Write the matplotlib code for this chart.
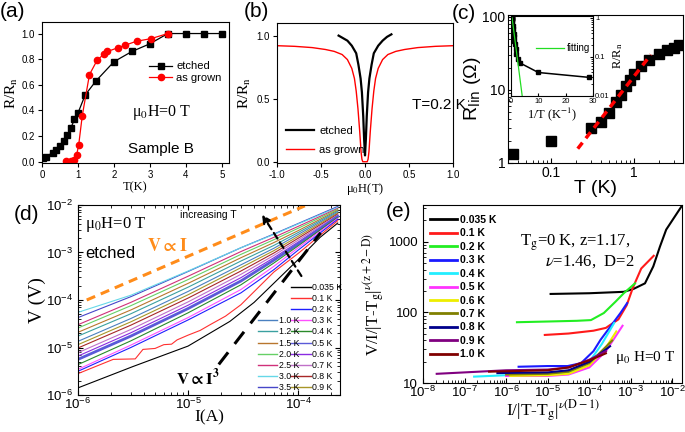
import numpy as np
import matplotlib
matplotlib.use('Agg')
import matplotlib.pyplot as plt
from matplotlib.ticker import FixedLocator, FuncFormatter, NullFormatter, LogLocator
from matplotlib.lines import Line2D

plt.rcParams['font.family'] = ['Liberation Sans', 'DejaVu Sans']
plt.rcParams['mathtext.fontset'] = 'dejavusans'
plt.rcParams['axes.linewidth'] = 0.8
SERIF = ['Liberation Serif', 'DejaVu Serif']

# ---------------- data ----------------
# (a) R/Rn vs T
a_T_etched = [0.035, 0.1, 0.3, 0.4, 0.5, 0.6, 0.7, 0.8, 0.9, 1.0, 1.2, 1.5, 2.0, 2.5, 3.0, 3.5, 4.0, 4.5, 5.0]
a_R_etched = [0.03, 0.04, 0.07, 0.09, 0.12, 0.16, 0.21, 0.26, 0.33, 0.38, 0.52, 0.63, 0.78, 0.86, 0.92, 1.0, 1.0, 1.0, 1.0]
a_T_grown = [0.68, 0.8, 0.9, 0.96, 1.02, 1.12, 1.32, 1.53, 1.72, 1.82, 2.12, 2.32, 2.63, 3.03, 3.5]
a_R_grown = [0.005, 0.008, 0.012, 0.05, 0.13, 0.36, 0.68, 0.79, 0.84, 0.86, 0.89, 0.91, 0.94, 0.96, 1.0]

# (b) R/Rn vs field
b_H_etched = [-0.30, -0.25, -0.20, -0.15, -0.10, -0.075, -0.05, -0.035, -0.02, -0.01, 0.0,
              0.01, 0.02, 0.035, 0.05, 0.075, 0.10, 0.15, 0.20, 0.25, 0.30]
b_R_etched = [1.0, 0.98, 0.96, 0.92, 0.86, 0.77, 0.66, 0.55, 0.36, 0.18, 0.05,
              0.18, 0.36, 0.55, 0.66, 0.77, 0.86, 0.92, 0.96, 0.99, 1.01]
b_H_grown = [-1.0, -0.8, -0.6, -0.45, -0.35, -0.26, -0.2, -0.15, -0.12, -0.1, -0.08, -0.06, -0.045,
             -0.035, -0.025, 0.0, 0.025, 0.035, 0.045, 0.06, 0.08, 0.1, 0.12, 0.15, 0.2, 0.26,
             0.35, 0.45, 0.6, 0.8, 1.0]
b_R_grown = [0.92, 0.915, 0.905, 0.89, 0.875, 0.85, 0.81, 0.74, 0.66, 0.56, 0.42, 0.24, 0.08,
             0.02, 0.0, 0.0, 0.0, 0.02, 0.08, 0.24, 0.42, 0.56, 0.66, 0.74, 0.81, 0.85,
             0.875, 0.89, 0.905, 0.915, 0.92]

# (c) R_lin vs T
c_T = [0.035, 0.1, 0.3, 0.4, 0.5, 0.6, 0.7, 0.8, 0.9, 1.0, 1.2, 1.5, 2.0, 2.5, 3.0, 3.5]
c_R = [1.32, 1.99, 3.06, 3.6, 4.9, 6.8, 8.5, 11.4, 13.7, 16.6, 21.0, 25.9, 31.0, 34.8, 38.0, 41.5]
c_fit_T = [0.21, 1.6]
c_fit_R = [1.57, 30.4]
c_inset_fit_invT = [0.4, 4.1]
c_inset_fit_R = [1.0, 0.01]

# (d) V-I curves (log10 values)
d_temps = ['3.5 K', '3.0 K', '2.5 K', '2.0 K', '1.5 K', '1.2 K', '1.0 K', '0.9 K', '0.8 K',
           '0.7 K', '0.6 K', '0.5 K', '0.4 K', '0.3 K', '0.2 K']
d_colors = ['#4646c8', '#66d8e8', '#d0307a', '#66d066', '#b8762e', '#3aa0a0', '#4a80c0', '#a89628',
            '#a82828', '#c070c8', '#8a2be2', '#5a5ad8', '#2a8a2a', '#ff50ff', '#1e1eff']
d_logI = [-6.0, -5.52, -5.0, -4.52, -4.22, -4.0, -3.64]
d_logV = [
    [-4.37, -3.93, -3.40, -2.90, -2.61, -2.39, -2.03],
    [-4.26, -3.90, -3.39, -2.90, -2.62, -2.40, -2.05],
    [-4.52, -4.05, -3.50, -2.98, -2.68, -2.45, -2.07],
    [-4.59, -4.12, -3.57, -3.04, -2.73, -2.49, -2.09],
    [-4.68, -4.21, -3.65, -3.11, -2.79, -2.54, -2.11],
    [-4.76, -4.29, -3.73, -3.18, -2.85, -2.58, -2.13],
    [-4.87, -4.39, -3.82, -3.26, -2.91, -2.62, -2.15],
    [-4.94, -4.46, -3.89, -3.32, -2.96, -2.66, -2.17],
    [-5.01, -4.53, -3.96, -3.39, -3.01, -2.70, -2.19],
    [-5.11, -4.62, -4.04, -3.46, -3.06, -2.74, -2.21],
    [-5.18, -4.69, -4.11, -3.53, -3.11, -2.78, -2.23],
    [-5.25, -4.76, -4.18, -3.60, -3.16, -2.82, -2.24],
    [-5.36, -4.86, -4.27, -3.68, -3.22, -2.86, -2.26],
    [-5.46, -4.95, -4.37, -3.78, -3.29, -2.90, -2.28],
    [-5.50, -5.00, -4.42, -3.85, -3.36, -2.95, -2.30],
]
d_red_logI = [-6.0, -5.68, -5.48, -5.41, -5.30, -5.22, -5.15, -5.10, -5.0, -4.89, -4.80, -4.66, -4.52, -4.22, -4.0, -3.64]
d_red_logV = [-5.55, -5.25, -5.24, -5.04, -5.02, -4.94, -4.93, -4.84, -4.74, -4.64, -4.52, -4.34, -4.10, -3.41, -3.02, -2.33]
d_blk_logI = [-6.0, -5.5, -5.0, -4.62, -4.4, -4.2, -4.0, -3.8, -3.64]
d_blk_logV = [-5.85, -5.40, -4.97, -4.45, -4.05, -3.6, -3.15, -2.68, -2.38]
d_lin_I = [1.2e-6, 1.15e-4]
d_lin_V = [1.0e-4, 9.6e-3]
d_cube_I = [1.9e-5, 1.6e-4]
d_cube_V = [4.4e-6, 2.6e-3]

# (e) scaling collapse (log10 values)
e_labels = ['0.035 K', '0.1 K', '0.2 K', '0.3 K', '0.4 K', '0.5 K', '0.6 K', '0.7 K', '0.8 K', '0.9 K', '1.0 K']
e_colors = ['#000000', '#ff1a1a', '#22ee22', '#1a1aff', '#22eeff', '#ff33ff', '#eeee00', '#808000', '#00008b', '#800080', '#800000']
e_logx = [
    [-4.93, -4.0, -3.17, -2.94, -2.66, -2.46, -2.30, -2.15, -1.78],
    [-5.07, -4.5, -3.9, -3.6, -3.3, -3.1, -2.95, -2.75, -2.45],
    [-5.74, -5.0, -4.3, -3.96, -3.65, -3.37, -3.17, -2.90],
    [-5.70, -5.0, -4.52, -4.2, -3.9, -3.73, -3.49, -3.25, -3.09],
    [-6.77, -6.0, -5.0, -4.5, -4.0, -3.7, -3.4],
    [-6.0, -5.0, -4.5, -4.0, -3.6, -3.2],
    [-5.9, -5.0, -4.5, -4.0, -3.6, -3.35],
    [-6.0, -5.0, -4.5, -4.0, -3.45],
    [-6.21, -5.0, -4.5, -4.0, -3.5],
    [-7.67, -6.0, -5.0, -4.5, -4.0, -3.6],
    [-6.41, -5.0, -4.5, -4.0, -3.6],
]
e_logy = [
    [2.26, 2.27, 2.29, 2.33, 2.41, 2.65, 2.93, 3.17, 3.5],
    [1.68, 1.70, 1.74, 1.78, 1.90, 2.10, 2.35, 2.62, 2.80],
    [1.86, 1.87, 1.88, 1.89, 1.99, 2.15, 2.27, 2.41],
    [1.23, 1.24, 1.24, 1.28, 1.45, 1.61, 1.80, 1.99, 2.13],
    [1.09, 1.11, 1.12, 1.15, 1.30, 1.55, 1.85],
    [1.10, 1.10, 1.12, 1.22, 1.45, 1.81],
    [1.10, 1.11, 1.13, 1.25, 1.50, 1.73],
    [1.12, 1.13, 1.16, 1.28, 1.60],
    [1.14, 1.15, 1.18, 1.30, 1.52],
    [1.13, 1.18, 1.19, 1.22, 1.33, 1.45],
    [1.16, 1.18, 1.22, 1.32, 1.42],
]

# ---------------- figure ----------------
fig = plt.figure(figsize=(6.85, 4.32), dpi=100)


def rect(l, t, r, b):
    return [l / 685, 1 - b / 432, (r - l) / 685, (b - t) / 432]


def plain_fmt(v, p):
    return ('%g' % v)

# ---- (a)
axa = fig.add_axes(rect(42, 22, 229, 163))
axa.plot(a_T_etched, a_R_etched, '-s', color='black', ms=3.8, lw=0.9, label='etched')
axa.plot(a_T_grown, a_R_grown, '-o', color='red', ms=4.5, lw=0.9, label='as grown')
axa.set_xlim(0, 5.2)
axa.set_ylim(-0.01, 1.09)
axa.set_xticks([0, 1, 2, 3, 4, 5])
axa.set_yticks([0, 0.2, 0.4, 0.6, 0.8, 1.0])
axa.yaxis.set_major_formatter(FuncFormatter(lambda v, p: '%.1f' % v))
axa.tick_params(labelsize=7, length=3, pad=2)
axa.set_xlabel('T(K)', fontfamily=SERIF, fontsize=9, labelpad=1)
axa.set_ylabel(r'R/R$_\mathrm{n}$', fontfamily=SERIF, math_fontfamily='stix', fontsize=11, labelpad=1)
axa.legend(loc='upper left', bbox_to_anchor=(0.545, 0.76), frameon=False, fontsize=8,
           handlelength=2.0, borderpad=0, labelspacing=0.1, handletextpad=0.4)
axa.text(2.5, 0.36, r'μ$_\mathrm{0}$H=0 T', fontfamily=SERIF, math_fontfamily='stix', fontsize=11.5)
axa.text(2.4, 0.07, 'Sample B', fontsize=11)

# ---- (b)
axb = fig.add_axes(rect(277, 23, 453, 163))
axb.plot(b_H_grown, b_R_grown, '-', color='red', lw=1, label='as grown')
axb.plot(b_H_etched, b_R_etched, '-', color='black', lw=1.6, label='etched')
axb.set_xlim(-1, 1)
axb.set_ylim(-0.01, 1.1)
axb.set_xticks([-1, -0.5, 0, 0.5, 1.0])
axb.set_yticks([0, 0.5, 1.0])
axb.xaxis.set_major_formatter(FuncFormatter(lambda v, p: '%.1f' % v))
axb.yaxis.set_major_formatter(FuncFormatter(lambda v, p: '%.1f' % v))
axb.tick_params(labelsize=7, length=3, pad=2)
axb.set_xlabel(r'μ$_\mathrm{0}$H(T)', fontfamily=SERIF, math_fontfamily='stix', fontsize=9, labelpad=1)
axb.set_ylabel(r'R/R$_\mathrm{n}$', fontfamily=SERIF, math_fontfamily='stix', fontsize=11, labelpad=3)
hb, lb = axb.get_legend_handles_labels()
axb.legend(hb[::-1], lb[::-1], loc='lower left', bbox_to_anchor=(0.02, 0.02), frameon=False, fontsize=8,
           handlelength=2.5, borderpad=0, labelspacing=0.8, handletextpad=0.5)
axb.text(0.53, 0.42, 'T=0.2 K', fontsize=11)

# ---- (c)
axc = fig.add_axes(rect(508, 15, 683, 163))
axc.set_xscale('log')
axc.set_yscale('log')
axc.plot(c_T, c_R, 's', color='black', ms=6.5, ls='none')
axc.plot(c_fit_T, c_fit_R, '--', color='red', lw=2.5, dashes=(2.2, 1.6))
axc.set_xlim(0.0303, 3.9)
axc.set_ylim(1, 106)
axc.xaxis.set_major_locator(FixedLocator([0.1, 1]))
axc.yaxis.set_major_locator(FixedLocator([1, 10, 100]))
axc.xaxis.set_major_formatter(FuncFormatter(plain_fmt))
axc.yaxis.set_major_formatter(FuncFormatter(plain_fmt))
axc.xaxis.set_minor_formatter(NullFormatter())
axc.yaxis.set_minor_formatter(NullFormatter())
axc.tick_params(which='both', direction='in', labelsize=10, pad=2)
axc.tick_params(which='major', length=3.5)
axc.tick_params(which='minor', length=2)
axc.set_xlabel('T (K)', fontsize=14, labelpad=0)
axc.set_ylabel(r'R$_\mathrm{lin}$ (Ω)', fontsize=14, labelpad=-1)

axi = fig.add_axes(rect(511, 16, 593, 96))
axi.set_yscale('log')
axi.plot([1.0 / t for t in a_T_etched], a_R_etched, '-s', color='black', ms=3.2, lw=1.1)
axi.plot(c_inset_fit_invT, c_inset_fit_R, '-', color='#22dd22', lw=0.9, label='fitting')
axi.set_xlim(0, 30)
axi.set_ylim(0.01, 1.12)
axi.set_xticks([0, 10, 20, 30])
axi.yaxis.set_major_locator(FixedLocator([0.01, 0.1, 1]))
axi.yaxis.set_major_formatter(FuncFormatter(plain_fmt))
axi.yaxis.set_minor_formatter(NullFormatter())
axi.yaxis.tick_right()
axi.yaxis.set_label_position('right')
axi.tick_params(which='both', direction='in', labelsize=5.5, pad=1.5, length=2)
axi.tick_params(which='minor', length=1.2)
axi.set_xlabel(r'1/T (K$^{\mathrm{-1}}$)', fontfamily=SERIF, math_fontfamily='stix', fontsize=9, labelpad=0)
axi.set_ylabel(r'R/R$_\mathrm{n}$', fontfamily=SERIF, math_fontfamily='stix', fontsize=9, labelpad=1)
axi.legend(loc='center left', bbox_to_anchor=(0.25, 0.6), frameon=False, fontsize=7,
           handlelength=2.8, borderpad=0, handletextpad=0.3)

# ---- (d)
axd = fig.add_axes(rect(78, 205, 340, 395))
axd.set_xscale('log')
axd.set_yscale('log')
I_grid = [10 ** v for v in d_logI]
hi_handles = {}
for lab, col, row in zip(d_temps, d_colors, d_logV):
    lw = 2.0 if lab == '0.5 K' else 0.8
    ln, = axd.plot(I_grid, [10 ** v for v in row], '-', color=col, lw=lw)
    hi_handles[lab] = ln
ln_r, = axd.plot([10 ** v for v in d_red_logI], [10 ** v for v in d_red_logV], '-', color='#ff3030', lw=0.8)
ln_k, = axd.plot([10 ** v for v in d_blk_logI], [10 ** v for v in d_blk_logV], '-', color='black', lw=0.8)
hi_handles['0.1 K'] = ln_r
hi_handles['0.035 K'] = ln_k
axd.plot(d_lin_I, d_lin_V, '--', color='#ff8c1a', lw=2.2, dashes=(3, 2))
axd.plot(d_cube_I, d_cube_V, '--', color='black', lw=2.2, dashes=(5, 3.5))
axd.annotate('', xy=(4.7e-5, 6.3e-3), xytext=(1.07e-4, 3.2e-4),
             arrowprops=dict(arrowstyle='-|>', color='black', lw=1.6, linestyle=(0, (3, 2)),
                             mutation_scale=12, shrinkA=0, shrinkB=0))
axd.set_xlim(1e-6, 2.4e-4)
axd.set_ylim(1e-6, 1e-2)
axd.xaxis.set_minor_formatter(NullFormatter())
axd.yaxis.set_minor_formatter(NullFormatter())
axd.yaxis.set_minor_locator(LogLocator(base=10, subs='auto', numticks=20))
axd.tick_params(which='both', direction='in', top=True, right=True, labelsize=9.5)
axd.tick_params(axis='x', pad=1.5)
axd.tick_params(axis='y', pad=3.5)
axd.tick_params(which='major', length=3.5)
axd.tick_params(which='minor', length=2)
axd.set_xlabel('I(A)', fontfamily=SERIF, fontsize=12.5, labelpad=-2)
axd.set_ylabel('V (V)', fontfamily=SERIF, fontsize=14, labelpad=0)
lo_labels = ['0.035 K', '0.1 K', '0.2 K', '0.3 K', '0.4 K', '0.5 K', '0.6 K', '0.7 K', '0.8 K', '0.9 K']
hi_labels = ['1.0 K', '1.2 K', '1.5 K', '2.0 K', '2.5 K', '3.0 K', '3.5 K']
legkw = dict(frameon=False, fontsize=6.3, handlelength=2.2, labelspacing=0.25, borderpad=0.1,
             handletextpad=0.2, borderaxespad=0.2)
leg1 = axd.legend([Line2D([], [], color=hi_handles[l].get_color(), lw=1) for l in lo_labels], lo_labels,
                  loc='lower right', bbox_to_anchor=(1.02, 0.0), **legkw)
axd.add_artist(leg1)
axd.legend([Line2D([], [], color=hi_handles[l].get_color(), lw=1) for l in hi_labels], hi_labels,
           loc='lower right', bbox_to_anchor=(0.855, 0.0), **legkw)
axd.text(0.027, 0.895, r'μ$_\mathrm{0}$H=0 T', transform=axd.transAxes, fontfamily=SERIF,
         math_fontfamily='stix', fontsize=12, va='center')
axd.text(0.027, 0.745, 'etched', transform=axd.transAxes, fontsize=12, va='center')
axd.text(0.265, 0.78, r'$\mathbf{V\propto I}$', transform=axd.transAxes, math_fontfamily='stix',
         fontsize=13, color='#ff8c1a', va='center')
axd.text(0.39, 0.948, 'increasing T', transform=axd.transAxes, fontsize=7.5, va='center')
axd.text(0.375, 0.09, r'$\mathbf{V\propto I^3}$', transform=axd.transAxes, math_fontfamily='stix',
         fontsize=12, color='black', va='center')

# ---- (e)
axe = fig.add_axes(rect(423, 205, 682, 383))
axe.set_xscale('log')
axe.set_yscale('log')
for lab, col, xs, ys in zip(e_labels, e_colors, e_logx, e_logy):
    axe.plot([10 ** v for v in xs], [10 ** v for v in ys], '-', color=col, lw=1.5, label=lab)
axe.set_xlim(1e-8, 1.7e-2)
axe.set_ylim(10, 3300)
axe.xaxis.set_major_locator(LogLocator(base=10, numticks=20))
axe.xaxis.set_minor_locator(LogLocator(base=10, subs='auto', numticks=40))
axe.xaxis.set_minor_formatter(NullFormatter())
axe.yaxis.set_major_locator(FixedLocator([10, 100, 1000]))
axe.yaxis.set_major_formatter(FuncFormatter(plain_fmt))
axe.yaxis.set_minor_formatter(NullFormatter())
axe.tick_params(which='both', direction='in', labelsize=9.5)
axe.tick_params(axis='x', pad=1.5)
axe.tick_params(axis='y', pad=3.5)
axe.tick_params(which='major', length=3.5)
axe.tick_params(which='minor', length=2)
axe.set_xlabel(r'I/|T-T$_\mathrm{g}$|$^{\nu\mathrm{(D-1)}}$', fontfamily=SERIF, math_fontfamily='stix',
               fontsize=12.5, labelpad=-1)
axe.set_ylabel(r'V/I/|T-T$_\mathrm{g}$|$^{\nu\mathrm{(z+2-D)}}$', fontfamily=SERIF, math_fontfamily='stix',
               fontsize=12, labelpad=1)
axe.legend(loc='upper left', bbox_to_anchor=(0.0, 0.985), frameon=False, prop=dict(size=7.5, weight='bold'),
           handlelength=2.6, labelspacing=0.33, borderpad=0.2, handletextpad=0.3)
for lh in axe.get_legend().get_lines():
    lh.set_linewidth(2.0)
axe.text(0.375, 0.79, r'T$_\mathrm{g}$=0 K, z=1.17,', transform=axe.transAxes, fontfamily=SERIF,
         math_fontfamily='stix', fontsize=12, va='center')
axe.text(0.47, 0.68, r'$\nu$=1.46,  D=2', transform=axe.transAxes, fontfamily=SERIF,
         math_fontfamily='stix', fontsize=12, va='center')
axe.text(0.74, 0.146, r'μ$_\mathrm{0}$ H=0 T', transform=axe.transAxes, fontfamily=SERIF,
         math_fontfamily='stix', fontsize=11, va='center')

# ---- panel labels
for lab, x, y in [('(a)', 0, 2), ('(b)', 244, 2), ('(c)', 452, 4), ('(d)', 14, 205), ('(e)', 386, 202)]:
    fig.text(x / 685, 1 - y / 432, lab, fontsize=15, va='top', ha='left')

fig.savefig('out.png', dpi=100)
